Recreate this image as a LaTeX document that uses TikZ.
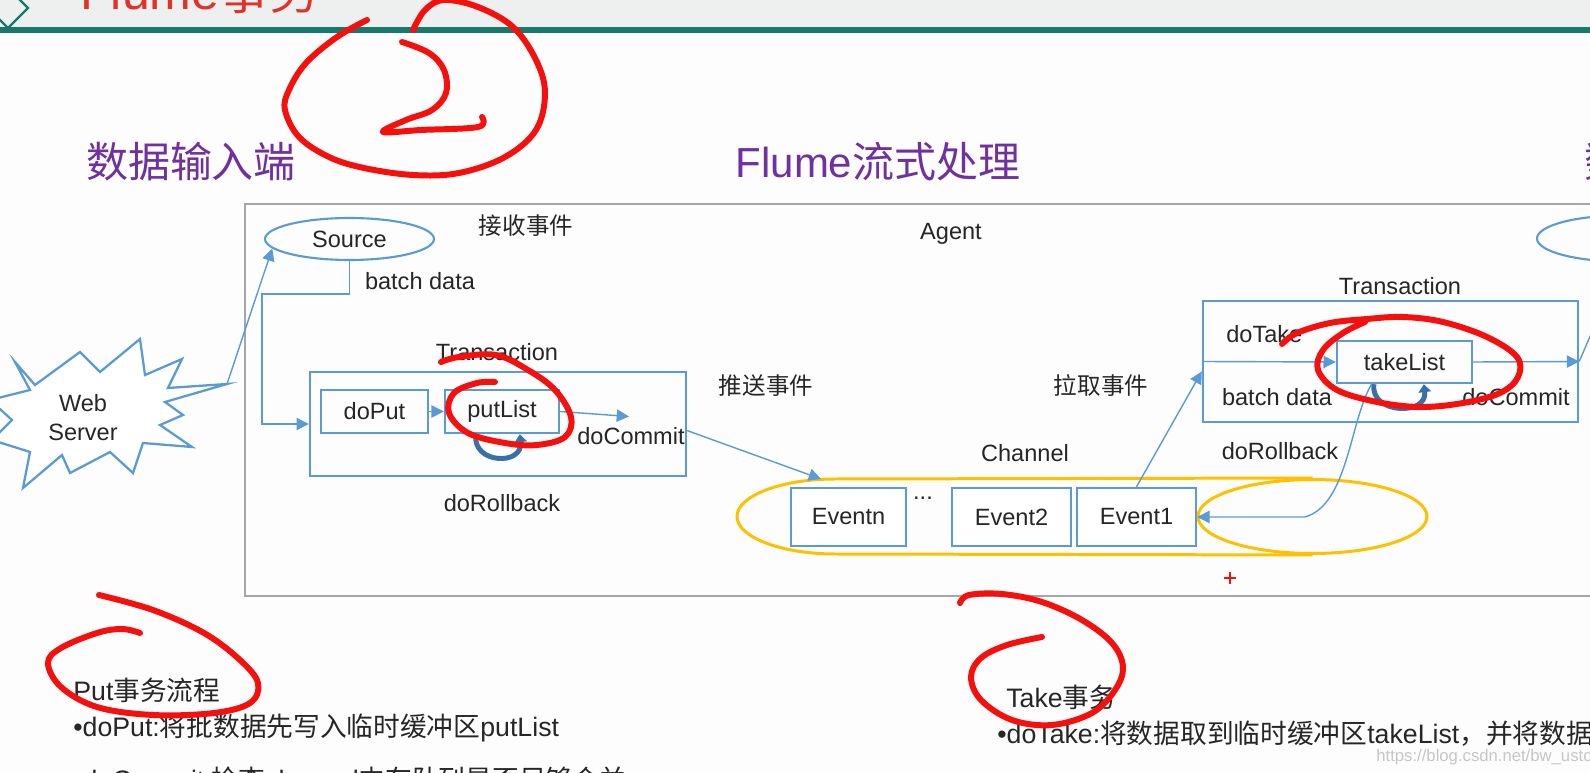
\documentclass[tikz,border=0pt]{standalone}
\usepackage{fontspec}
\setmainfont{Liberation Sans}
\newfontfamily\zh{Noto Sans CJK SC}
\usetikzlibrary{arrows.meta}
\usetikzlibrary{shapes.geometric}

\definecolor{flumeblue}{HTML}{5B9BD5}
\definecolor{loopblue}{HTML}{3A70A8}
\definecolor{chanorange}{HTML}{FFC000}
\definecolor{agentgray}{HTML}{A6A6A6}
\definecolor{headpurple}{HTML}{7030A0}
\definecolor{titlered}{HTML}{E0322C}
\definecolor{markred}{HTML}{F5100E}
\definecolor{slideteal}{HTML}{17796B}
\definecolor{textgray}{HTML}{262626}
\definecolor{pagebg}{HTML}{FCFDFC}
\definecolor{bandbg}{HTML}{EEF0EF}

\begin{document}
\begin{tikzpicture}
	[x=0.02cm, y=-0.02cm,
	 lbl/.style={text=textgray, inner sep=0pt, font=\fontsize{13.4}{16.5}\selectfont},
	 head/.style={text=headpurple, inner sep=0pt, font=\fontsize{23.9}{26}\selectfont},
	 note/.style={text=textgray, inner sep=0pt, anchor=west, font=\fontsize{15.2}{17}\selectfont},
	 box/.style={lbl, draw=flumeblue, line width=1.4pt, rectangle},
	 oval/.style={lbl, draw=flumeblue, line width=1.2pt, ellipse},
	 flow/.style={draw=flumeblue, line width=0.8pt, -{Triangle[length=7pt,width=7pt]}},
	 rollloop/.style={draw=loopblue, line width=2.8pt, -{Triangle[length=4.5pt,width=7pt]}},
	 redmark/.style={draw=markred, line width=3.4pt, line cap=round, line join=round}]

	\useasboundingbox (0,0) rectangle (1590,773);
	\clip (0,0) rectangle (1590,773);

	%Slide
	\fill[pagebg] (0,0) rectangle (1590,773);
	\fill[bandbg] (0,0) rectangle (1590,30);
	\draw[slideteal, line width=3.4pt] (0,30) -- (1590,30);
	\draw[slideteal, line width=1.3pt] (8,-12) -- (28,8) -- (8,28) -- (-12,8) -- cycle;
	\node[anchor=base west, text=titlered, inner sep=0pt, font=\fontsize{28.5}{30}\selectfont] (title) at (80,10) {Flume{\zh 事务}};

	%Headings
	\node[head] (inhead) at (191,162) {\zh 数据输入端};
	\node[head] (flowhead) at (878,162) {Flume{\zh 流式处理}};
	\node[head, anchor=west] (outhead) at (1584,162) {\zh 数据输出端};

	%Agent
	\draw[agentgray, line width=1.6pt] (245,204) rectangle (1640,596);
	\node[lbl] (agent) at (951,234) {Agent};

	%Web server
	\draw[flumeblue, line width=1.3pt, fill=white] (15,362) -- (35,385) -- (80,352) -- (100,372) -- (140,339) -- (145,375)
		-- (182,359) -- (168,388) -- (227,384) -- (165,402) -- (183,415) -- (160,425) -- (192,447) -- (143,443)
		-- (133,473) -- (110,452) -- (70,473) -- (62,455) -- (23,488) -- (30,452) -- (-8,440) -- (12,420)
		-- (-10,400) -- (30,390) -- cycle;
	\coordinate (webtip) at (227,384);
	\node[lbl, align=center] (web) at (83,418) {Web\\Server};

	%Source side
	\node[oval, minimum width=3.38cm, minimum height=0.84cm] (source) at (349.5,239) {Source};
	\node[lbl] (recv) at (526,226) {\zh 接收事件};
	\node[lbl] (batchin) at (420,281) {batch data};
	\draw[flow] (webtip) -- (source.187);

	%Put transaction
	\node[box, minimum width=7.52cm, minimum height=2.08cm] (puttrans) at (498,424) {};
	\node[lbl] (puttr) at (497,352) {Transaction};
	\node[box, minimum width=2.14cm, minimum height=0.86cm] (doput) at (374.5,411.5) {doPut};
	\node[box, minimum width=2.28cm, minimum height=0.86cm] (putlist) at (502,411.5) {putList};
	\node[lbl] (putcommit) at (631,436) {doCommit};
	\node[lbl] (putroll) at (502,503) {doRollback};
	\coordinate (putout) at (629,416.5);
	\draw[flow] (source.south) |- (262,294) |- (puttrans.west);
	\draw[flow] (doput.east) -- (putlist.west);
	\draw[flow] (putlist.east) -- (putout);
	\draw[rollloop] (putlist.-139) .. controls +(-4,30) and +(4,32) .. (putlist.-52);
	\node[lbl] (push) at (766,386) {\zh 推送事件};

	%Channel
	\node[lbl] (channel) at (1025,453) {Channel};
	\node[draw=chanorange, line width=1.7pt, ellipse, minimum width=4.58cm, minimum height=1.48cm, inner sep=0pt] (rollq) at (1312.5,516.5) {};
	\draw[chanorange, line width=1.7pt] (rollq.north) -- (835,479) .. controls (781,479) and (737,496) .. (737,516.5)
		.. controls (737,537) and (781,554) .. (835,554) -- (rollq.south);
	\coordinate (chtop) at (821,479);
	\node[box, fill=white, minimum width=2.3cm, minimum height=1.16cm] (eventn) at (848.5,517) {Eventn};
	\node[lbl, anchor=base] (dots) at (923,500) {...};
	\node[box, fill=white, minimum width=2.38cm, minimum height=1.16cm] (event2) at (1011.5,517) {Event2};
	\node[box, fill=white, minimum width=2.38cm, minimum height=1.16cm] (event1) at (1136.5,517) {Event1};
	\draw[flow] (puttrans.-2) -- (chtop);

	%Take transaction
	\node[lbl] (pull) at (1101,386) {\zh 拉取事件};
	\node[box, minimum width=7.5cm, minimum height=2.42cm] (taketrans) at (1390.5,361.5) {};
	\node[lbl] (taketr) at (1400,286) {Transaction};
	\node[box, minimum width=2.7cm, minimum height=0.84cm] (takelist) at (1404.5,362) {takeList};
	\node[lbl, anchor=west] (dotake) at (1226,334) {doTake};
	\node[lbl] (batchout) at (1277,397) {batch data};
	\node[lbl] (takecommit) at (1516,397) {doCommit};
	\node[lbl] (takeroll) at (1280,451) {doRollback};
	\node[oval, minimum width=3.4cm, minimum height=0.92cm] (sink) at (1622,238.5) {};
	\draw[flow] (event1.north) -- (taketrans.183);
	\draw[flow] (taketrans.west) -- (takelist.west);
	\draw[flow] (takelist.east) -- (taketrans.east);
	\draw[flow] (taketrans.east) -- (sink.south);
	\draw[rollloop] (takelist.-144) .. controls +(-4,30) and +(4,32) .. (takelist.-49);
	\draw[flow] (takelist.-146) .. controls (1350,420) and (1348,505) .. (1305,517) -- (event1.east);

	%Notes
	\node[note] (putnote) at (73,690) {Put{\zh 事务流程}};
	\node[note] (putstep) at (73,728) {•doPut:{\zh 将批数据先写入临时缓冲区}putList};
	\node[note] (commitstep) at (73,779) {•doCommit:{\zh 检查}channel{\zh 内存队列是否足够合并}};
	\node[note] (takenote) at (1006,697) {Take{\zh 事务}};
	\node[note] (takestep) at (997,734) {•doTake:{\zh 将数据取到临时缓冲区}takeList{\zh ，并将数据发送到}HDFS};
	\node[note, text=gray!45, font=\fontsize{9.5}{11}\selectfont] (mark) at (1376,757) {https://blog.csdn.net/bw\_ustc};

	%Pen marks
	\draw[redmark] plot[smooth, tension=0.6] coordinates {(367,20) (337,37) (306,63) (289,90) (285,110) (299,137) (329,157)
		(364,168) (413,175) (459,173) (505,157) (536,130) (545,93) (536,60) (513,27) (478,7) (444,0) (425,10) (413,30)};
	\draw[redmark] plot[smooth, tension=0.6] coordinates {(402,42) (429,53) (444,70) (446,93) (432,110) (406,120) (383,132)
		(421,130) (478,127) (482,117)};
	\draw[redmark] plot[smooth, tension=0.6] coordinates {(441,362) (459,357) (496,355) (528,370) (555,390) (571,417)
		(565,437) (537,445) (505,443) (468,433) (449,413) (454,393) (477,383) (495,382)};
	\draw[redmark] plot[smooth, tension=0.6] coordinates {(1282,344) (1297,333) (1330,323) (1367,319) (1403,317) (1443,322)
		(1487,337) (1517,357) (1518,377) (1500,393) (1463,403) (1420,407) (1377,402) (1337,390) (1318,370) (1323,350)
		(1343,333) (1365,322)};
	\draw[redmark] plot[smooth, tension=0.6] coordinates {(99,595) (153,610) (204,633) (240,660) (258,683) (250,703)
		(214,713) (153,715) (97,707) (61,687) (48,663) (61,648) (97,633) (122,629) (140,633)};
	\draw[redmark] plot[smooth, tension=0.6] coordinates {(960,603) (969,595) (1002,594) (1042,602) (1082,620) (1112,643)
		(1123,667) (1115,690) (1092,713) (1052,725) (1012,720) (981,700) (971,677) (981,658) (1007,645) (1042,637)};
	\draw[markred, line width=1.3pt] (1224,578) -- (1236,578) (1230,572) -- (1230,584);
\end{tikzpicture}
\end{document}
